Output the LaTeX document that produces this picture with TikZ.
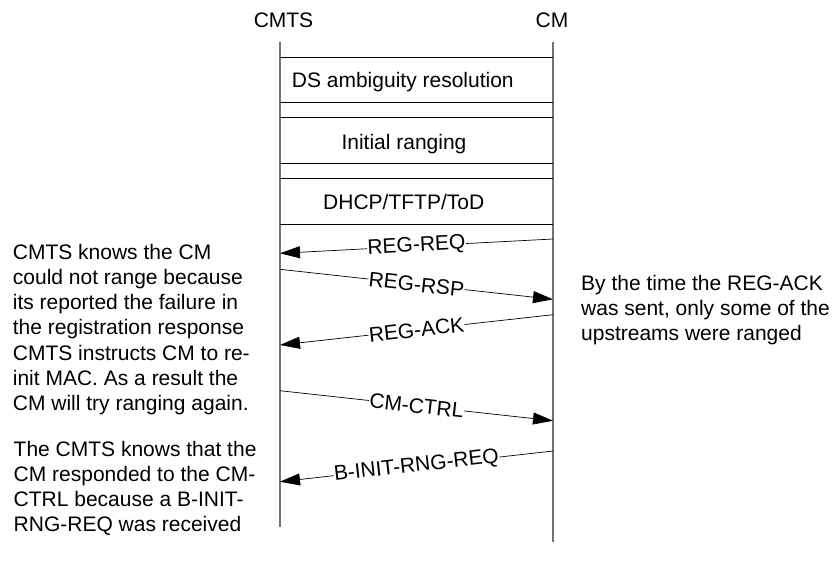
\documentclass[tikz,border=0pt]{standalone}
\usepackage{fontspec}
\setmainfont{Liberation Sans}
\usetikzlibrary{arrows.meta}
\begin{document}
\begin{tikzpicture}[x=1pt,y=-1pt,
  every node/.style={font=\fontsize{21}{25}\selectfont, inner sep=0pt},
  life/.style={draw=black!55, line width=1.1pt},
  hline/.style={draw=black, line width=0.8pt},
  msg/.style={draw=black, line width=0.7pt, -{Triangle[length=20pt,width=12pt]}},
  lbl/.style={midway, sloped, fill=white, inner xsep=0.5pt, inner ysep=1pt},
  note/.style={align=left, anchor=west}]
\useasboundingbox (0,0) rectangle (834,560);
% lifeline heads
\node[anchor=base] (cmts) at (283.5,27) {CMTS};
\node[anchor=base] (cm) at (552,27) {CM};
\coordinate (cmtsTop) at (280,42);
\coordinate (cmtsBot) at (280,527);
\coordinate (cmTop) at (553,42);
\coordinate (cmBot) at (553,542);
\draw[life] (cmtsTop) -- (cmtsBot);
\draw[life] (cmTop) -- (cmBot);
% phase boxes
\draw[hline] (280,57) -- (553,57);
\draw[hline] (280,102) -- (553,102);
\draw[hline] (280,117) -- (553,117);
\draw[hline] (280,163) -- (553,163);
\draw[hline] (280,178) -- (553,178);
\draw[hline] (280,224) -- (553,224);
\node[anchor=base west] (ds) at (291.7,87.5) {DS ambiguity resolution};
\node[anchor=base] (ir) at (404,149) {Initial ranging};
\node[anchor=base] (dhcp) at (403.7,209) {DHCP/TFTP/ToD};
% messages
\coordinate (m1s) at (553,239);   \coordinate (m1e) at (280,253.3);
\coordinate (m2s) at (280,269.3); \coordinate (m2e) at (553,299.3);
\coordinate (m3s) at (553,314.7); \coordinate (m3e) at (280,345);
\coordinate (m4s) at (280,390.7); \coordinate (m4e) at (553,420.7);
\coordinate (m5s) at (553,451);   \coordinate (m5e) at (280,481.7);
\draw[msg] (m1s) -- node[lbl] (l1) {REG-REQ} (m1e);
\draw[msg] (m2s) -- node[lbl] (l2) {REG-RSP} (m2e);
\draw[msg] (m3s) -- node[lbl] (l3) {REG-ACK} (m3e);
\draw[msg] (m4s) -- node[lbl] (l4) {CM-CTRL} (m4e);
\draw[msg] (m5s) -- node[lbl] (l5) {B-INIT-RNG-REQ} (m5e);
% notes
\node[note] (n1) at (12.7,291.5) {CMTS knows the CM\\could not range because\\its reported the failure in\\the registration response};
\node[note] (n2) at (12.7,380.5) {CMTS instructs CM to re-\\init MAC. As a result the\\CM will try ranging again.};
\node[note] (n3) at (13.5,488.3) {The CMTS knows that the\\CM responded to the CM-\\CTRL because a B-INIT-\\RNG-REQ was received};
\node[note] (n4) at (581,310.5) {By the time the REG-ACK\\was sent, only some of the\\upstreams were ranged};
\end{tikzpicture}
\end{document}
